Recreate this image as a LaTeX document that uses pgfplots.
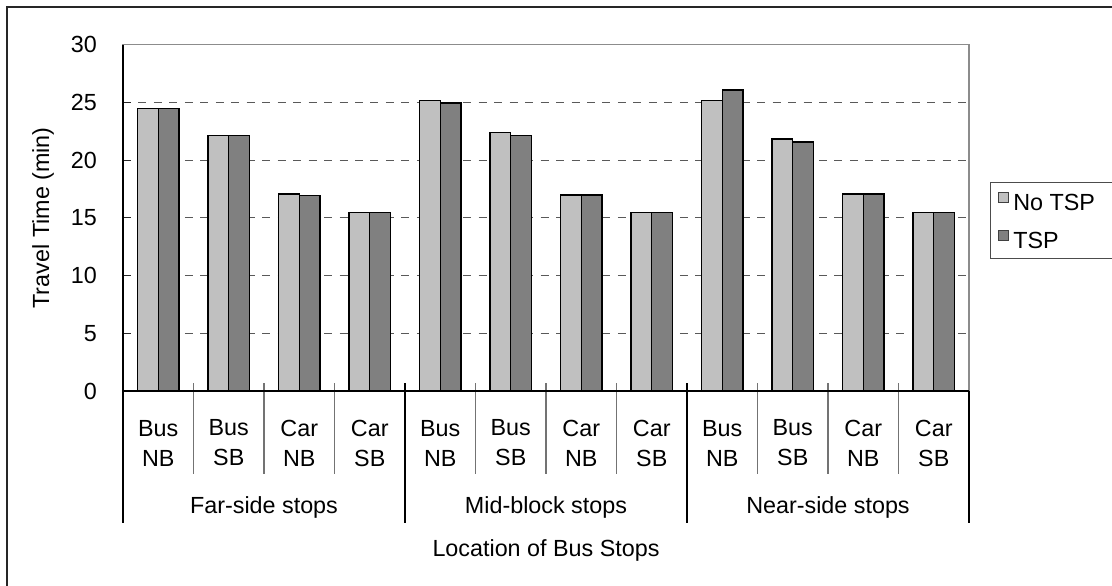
\documentclass[border=0pt]{standalone}
\usepackage{fontspec}
\setmainfont{Liberation Sans}
\usepackage{pgfplots}
\pgfplotsset{compat=1.18}
\definecolor{lightbar}{HTML}{C0C0C0}
\definecolor{darkbar}{HTML}{808080}
\begin{document}
\fontsize{17.5}{22.5}\selectfont
\begin{tikzpicture}
\begin{axis}[
  at={(0,0)}, anchor=south west,
  scale only axis, width=634.5pt, height=259.7pt,
  xmin=-0.5, xmax=11.5, ymin=0, ymax=30,
  ybar=0pt, bar width=15.5pt,
  clip=false,
  ytick={0,5,...,30},
  xtick={0,...,11},
  xticklabels={{Bus\\NB},{Bus\\SB},{Car\\NB},{Car\\SB},{Bus\\NB},{Bus\\SB},{Car\\NB},{Car\\SB},{Bus\\NB},{Bus\\SB},{Car\\NB},{Car\\SB}},
  xtick style={draw=none},
  xticklabel style={align=center, anchor=center, yshift=-39pt, font=\fontsize{17.5}{22.5}\selectfont},
  yticklabel style={anchor=east, inner sep=0pt, xshift=-19.5pt, font=\fontsize{17.5}{20}\selectfont},
  /pgf/number format/assume math mode=true,
  tick align=inside, major tick length=6pt,
  ytick pos=left,
  ytick style={black!85, line width=0.8pt},
  axis line style={draw=black!45, line width=1pt},
  ymajorgrids,
  grid style={dash pattern=on 6pt off 5.6pt, black!65, line width=0.8pt},
  ylabel={Travel Time (min)},
  ylabel style={at={(axis description cs:-0.0946,0.5)}, anchor=center, font=\fontsize{17.5}{20}\selectfont},
  xlabel={Location of Bus Stops},
  xlabel style={at={(axis description cs:0.5,-0.4592)}, anchor=center, font=\fontsize{17.5}{20}\selectfont},
  legend style={at={(axis description cs:1.0248,0.6036)}, anchor=north west,
    draw=black!70, line width=0.75pt, fill=white,
    inner xsep=6pt, inner ysep=7.25pt, row sep=14.5pt, column sep=3pt,
    font=\fontsize{17.5}{20}\selectfont,
    nodes={inner sep=0pt, text height=12.5pt, text depth=0pt}},
  legend cell align=left,
  legend image code/.code={\draw[#1, draw=black!75, line width=0.6pt] (0pt,0pt) rectangle (7.5pt,7.5pt);},
]
\addplot[fill=lightbar, draw=black, line width=0.9pt] coordinates {
  (0,24.45) (1,22.15) (2,17.07) (3,15.45)
  (4,25.15) (5,22.38) (6,16.98) (7,15.45)
  (8,25.15) (9,21.83) (10,17.07) (11,15.45)};
\addplot[fill=darkbar, draw=black, line width=0.9pt] coordinates {
  (0,24.45) (1,22.15) (2,16.95) (3,15.45)
  (4,24.95) (5,22.15) (6,16.98) (7,15.45)
  (8,26.08) (9,21.57) (10,17.07) (11,15.45)};
\legend{{No TSP\rule{24pt}{0pt}}, TSP}
% category separators
\pgfplotsinvokeforeach{0.5,1.5,2.5,4.5,5.5,6.5,8.5,9.5,10.5}{
  \draw[black!55, line width=0.9pt] (axis cs:#1,0) ++(0pt,6pt) -- ++(0pt,-68.25pt);
}
% group separators
\pgfplotsinvokeforeach{3.5,7.5}{
  \draw[black, line width=0.9pt] (axis cs:#1,0) ++(0pt,6pt) -- ++(0pt,-105pt);
}
\draw[black, line width=0.9pt] (axis cs:-0.5,30) -- (axis cs:-0.5,0) -- ++(0pt,-99pt);
\draw[black, line width=0.9pt] (axis cs:11.5,0) -- ++(0pt,-99pt);
\draw[black, line width=0.9pt] (axis cs:-0.5,0) -- (axis cs:11.5,0);
\node[anchor=center] at (axis cs:1.5,0) [yshift=-87.4pt] {Far-side stops};
\node[anchor=center] at (axis cs:5.5,0) [yshift=-87.4pt] {Mid-block stops};
\node[anchor=center] at (axis cs:9.5,0) [yshift=-87.4pt] {Near-side stops};
\end{axis}
\draw[line width=1.2pt, black!85] (760pt,288pt) -- (-87pt,288pt) -- (-87pt,-160pt);
\pgfresetboundingbox
\path[use as bounding box] (-92.25pt,-145.5pt) rectangle (741.75pt,293.25pt);
\end{tikzpicture}
\end{document}
